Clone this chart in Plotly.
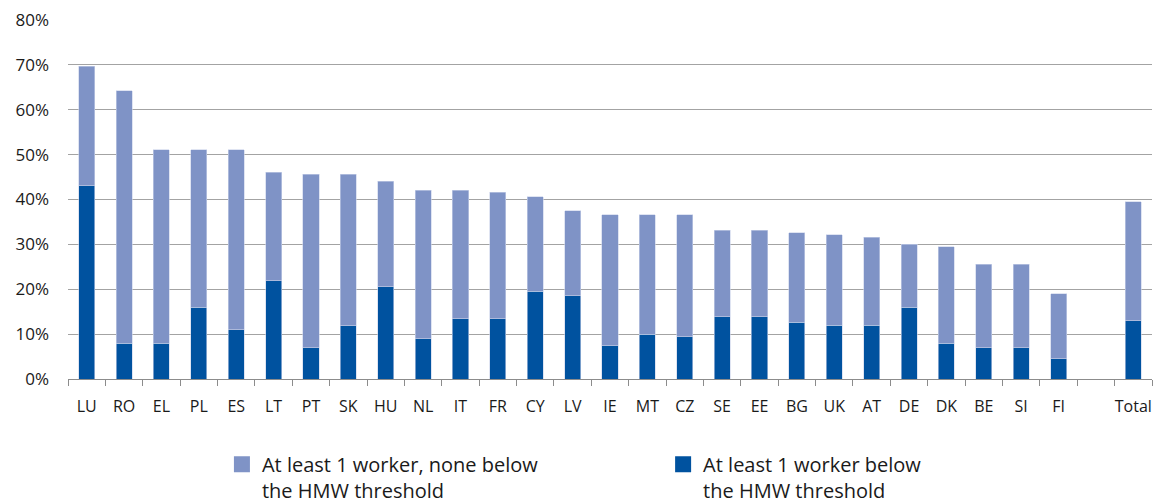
import plotly.graph_objects as go

# Share of households (%) by country, stacked into two groups
countries = ["LU", "RO", "EL", "PL", "ES", "LT", "PT", "SK", "HU", "NL",
             "IT", "FR", "CY", "LV", "IE", "MT", "CZ", "SE", "EE", "BG",
             "UK", "AT", "DE", "DK", "BE", "SI", "FI", " ", "Total"]

# Total height of each bar (both groups together)
total_share = [69.7, 64.2, 51.1, 51.1, 51.1, 46.1, 45.6, 45.6, 44.1, 42.1,
               42.1, 41.6, 40.6, 37.5, 36.6, 36.6, 36.6, 33.1, 33.1, 32.6,
               32.1, 31.6, 30.0, 29.5, 25.6, 25.6, 19.0, None, 39.5]

# At least one worker below the HMW threshold
below_hmw = [43.1, 8.0, 8.0, 16.0, 11.0, 21.9, 7.0, 11.9, 20.6, 9.0,
             13.4, 13.4, 19.5, 18.6, 7.4, 10.0, 9.4, 13.9, 13.9, 12.6,
             12.0, 12.0, 16.0, 8.0, 7.0, 7.0, 4.5, None, 13.0]

# At least one worker, none below the threshold = total minus the lower group
none_below = [None if t is None else round(t - b, 1)
              for t, b in zip(total_share, below_hmw)]

yticks = [0, 10, 20, 30, 40, 50, 60, 70, 80]
ytick_text = [f"{v}%" for v in yticks]

name_light = "At least 1 worker, none below<br>the HMW threshold"
name_dark = "At least 1 worker below<br>the HMW threshold"

DARK = "#00529f"
LIGHT = "#7f93c6"
EDGE = "#c9d2ea"
FONT = "Open Sans"
TEXT = "#1a1a1a"

fig = go.Figure()
fig.add_trace(go.Bar(
    x=countries, y=below_hmw, name=name_dark, showlegend=False,
    marker=dict(color=DARK, line=dict(color=EDGE, width=0.6)),
))
fig.add_trace(go.Bar(
    x=countries, y=none_below, name=name_light, showlegend=False,
    marker=dict(color=LIGHT, line=dict(color=EDGE, width=0.6)),
))

# Legend keys: larger square swatches, one legend per series
fig.add_trace(go.Scatter(
    x=[None], y=[None], mode="markers", name=name_light, legend="legend",
    marker=dict(symbol="square", size=16, color=LIGHT),
))
fig.add_trace(go.Scatter(
    x=[None], y=[None], mode="markers", name=name_dark, legend="legend2",
    marker=dict(symbol="square", size=16, color=DARK),
))

legend_style = dict(
    orientation="h", yanchor="top", xanchor="left", valign="top",
    font=dict(size=20, family=FONT, color=TEXT),
    bgcolor="rgba(0,0,0,0)", itemsizing="trace",
)

fig.update_layout(
    width=1158, height=504,
    margin=dict(l=68, r=6, t=20, b=125, autoexpand=False),
    barmode="stack",
    bargap=0.57,
    plot_bgcolor="white",
    paper_bgcolor="white",
    font=dict(family=FONT, color=TEXT, size=16),
    showlegend=True,
    legend=dict(x=0.142, y=-0.183, **legend_style),
    legend2=dict(x=0.549, y=-0.183, **legend_style),
    xaxis=dict(
        type="category",
        categoryorder="array", categoryarray=countries,
        tickson="boundaries", tickangle=0,
        ticks="outside", ticklen=6, tickcolor="#8c8c8c",
        showline=True, linecolor="#8c8c8c", linewidth=1,
        showgrid=False,
        ticklabelstandoff=13,
        tickfont=dict(size=16, family=FONT, color=TEXT),
    ),
    yaxis=dict(
        range=[0, 80],
        tickvals=yticks, ticktext=ytick_text,
        showgrid=True, gridcolor="#a3a3a3", gridwidth=1,
        zeroline=False,
        ticks="", ticklabelstandoff=18,
        tickfont=dict(size=17, family=FONT, color=TEXT),
    ),
)

fig.write_html("out.html")
